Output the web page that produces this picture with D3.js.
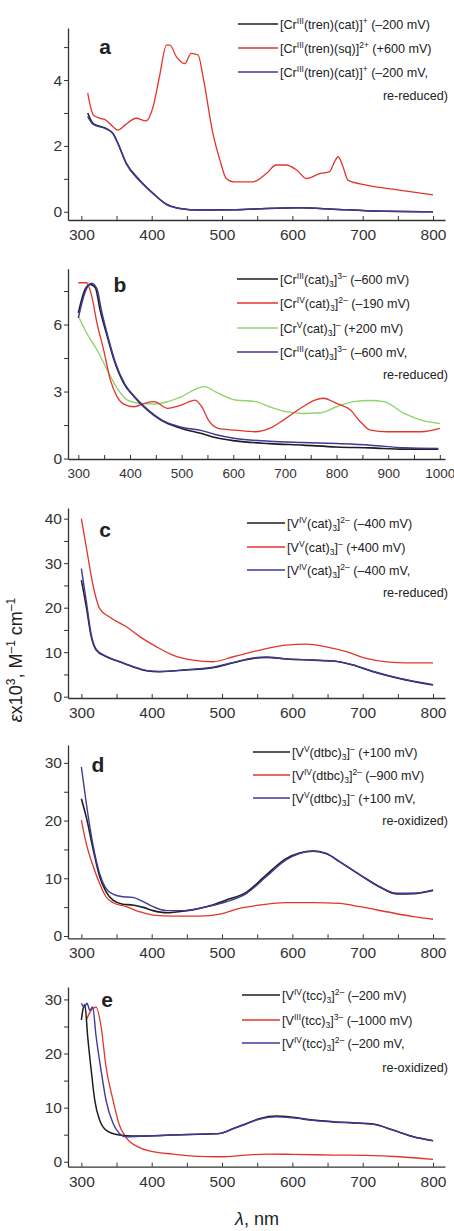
<!DOCTYPE html>
<html><head><meta charset="utf-8">
<script src="https://cdn.jsdelivr.net/npm/d3@7"></script>
<style>
body{margin:0;background:#fff;}
svg{display:block;font-family:"Liberation Sans",Arial,sans-serif;}
</style></head>
<body><svg id="c" width="454" height="1231"></svg>
<script>
// ---------- DATA ----------
// Panel a
const aBlack = [[309,3.0],[317,2.68],[335,2.53],[345,2.38],[352,2.08],[364,1.47],[383,0.96],[402,0.56],[421,0.23],[440,0.1],[468,0.05],[520,0.06],[563,0.1],[610,0.12],[658,0.08],[705,0.03],[800,0.0]];
const aRed = [[309,3.6],[317,2.94],[326,2.84],[335,2.78],[345,2.58],[352,2.48],[362,2.63],[378,2.84],[392,2.76],[402,3.19],[411,4.1],[421,5.06],[426,5.06],[435,4.71],[447,4.5],[456,4.81],[466,4.76],[473,4.1],[487,2.38],[497,1.57],[506,1.01],[516,0.91],[544,0.91],[563,1.16],[577,1.42],[591,1.42],[606,1.27],[620,1.01],[639,1.16],[653,1.22],[660,1.52],[665,1.67],[672,1.37],[679,0.96],[705,0.81],[752,0.66],[800,0.51]];
const aBlue = [[309,2.9],[317,2.65],[335,2.52],[345,2.37],[352,2.07],[364,1.45],[383,0.94],[402,0.55],[421,0.22],[440,0.1],[468,0.05],[520,0.06],[563,0.1],[610,0.12],[658,0.08],[705,0.03],[800,0.0]];
// Panel b
const bBlack = [[300,6.52],[313,7.57],[323,7.8],[333,7.65],[342,6.67],[356,5.47],[369,4.42],[388,3.37],[408,2.77],[434,2.17],[460,1.72],[500,1.35],[539,1.12],[565,0.94],[604,0.79],[670,0.67],[735,0.6],[800,0.52],[866,0.48],[931,0.42],[997,0.42]];
const bRed = [[300,7.87],[316,7.87],[326,7.27],[336,6.07],[349,4.87],[362,3.52],[375,2.77],[388,2.44],[408,2.32],[428,2.47],[447,2.55],[473,2.25],[500,2.4],[526,2.62],[539,2.32],[552,1.72],[571,1.35],[604,1.27],[643,1.2],[670,1.35],[702,1.8],[735,2.32],[758,2.62],[774,2.7],[800,2.47],[827,2.17],[846,1.65],[866,1.27],[898,1.2],[964,1.2],[1000,1.35]];
const bGreen = [[300,6.37],[316,5.62],[336,4.87],[356,3.97],[375,3.15],[395,2.62],[421,2.47],[447,2.44],[473,2.55],[500,2.77],[526,3.1],[545,3.22],[565,3.0],[604,2.62],[643,2.55],[670,2.32],[702,2.1],[735,2.02],[768,2.05],[800,2.32],[833,2.55],[866,2.6],[892,2.55],[931,2.02],[964,1.72],[1000,1.57]];
const bBlue = [[300,6.3],[313,7.45],[326,7.85],[336,7.6],[345,6.6],[358,5.4],[371,4.35],[390,3.33],[410,2.75],[436,2.16],[462,1.72],[500,1.4],[539,1.25],[565,1.08],[604,0.9],[670,0.78],[735,0.72],[800,0.67],[866,0.6],[931,0.48],[997,0.45]];
// Panel c
const cBlack = [[300,26.2],[307,20.2],[314,13.5],[321,10.5],[335,9.0],[354,7.85],[373,6.73],[392,5.83],[411,5.6],[449,6.0],[487,6.5],[516,7.6],[544,8.6],[563,8.8],[591,8.45],[629,8.2],[658,8.0],[686,7.1],[715,5.6],[752,4.1],[800,2.6]];
const cRed = [[300,40.0],[307,33.6],[317,24.7],[326,19.8],[340,17.9],[364,15.7],[383,13.5],[407,11.2],[430,9.35],[459,8.22],[487,7.85],[516,8.97],[544,10.1],[563,10.8],[591,11.6],[620,11.8],[648,11.2],[677,10.1],[705,8.6],[734,7.8],[762,7.6],[800,7.6]];
const cBlue = [[300,28.8],[307,21.5],[314,14.0],[321,10.7],[335,9.1],[354,7.9],[373,6.8],[392,5.9],[411,5.65],[449,6.05],[487,6.6],[516,7.7],[544,8.7],[563,8.9],[591,8.5],[629,8.25],[658,8.05],[686,7.15],[715,5.65],[752,4.15],[800,2.7]];
// Panel d
const dBlack = [[300,23.8],[307,20.6],[317,14.9],[326,10.3],[335,7.7],[345,6.2],[359,5.5],[373,5.37],[388,4.96],[402,4.4],[421,4.04],[449,4.4],[478,5.08],[506,6.23],[535,7.6],[563,10.6],[591,13.4],[610,14.4],[629,14.7],[648,14.3],[667,12.9],[696,10.6],[724,8.5],[748,7.3],[772,7.35],[800,7.9]];
const dRed = [[300,20.1],[307,16.0],[317,12.0],[326,9.1],[335,6.8],[345,5.77],[364,5.08],[383,4.2],[402,3.63],[430,3.46],[468,3.46],[497,3.8],[525,4.8],[554,5.37],[591,5.77],[629,5.77],[667,5.65],[696,5.08],[734,4.2],[772,3.35],[800,2.9]];
const dBlue = [[300,29.3],[307,23.0],[317,15.5],[326,10.8],[335,8.25],[345,7.27],[359,6.8],[373,6.7],[388,5.94],[402,5.08],[421,4.4],[449,4.4],[478,5.08],[506,5.94],[535,7.4],[563,10.3],[591,13.2],[610,14.3],[629,14.7],[648,14.3],[667,12.9],[696,10.6],[724,8.54],[748,7.4],[772,7.4],[800,8.0]];
// Panel e
const eBlack = [[300,26.2],[302,28.0],[305,29.0],[309,23.1],[314,16.9],[319,11.4],[326,7.7],[335,5.85],[354,4.93],[373,4.74],[402,4.8],[430,4.93],[468,5.1],[497,5.24],[516,6.16],[535,7.08],[554,8.0],[577,8.44],[601,8.2],[629,7.7],[658,7.4],[686,7.2],[715,6.96],[743,5.85],[772,4.62],[800,3.88]];
const eRed = [[307,26.2],[314,28.0],[321,28.6],[328,25.0],[335,17.6],[345,11.4],[354,6.8],[364,4.4],[383,2.6],[402,1.85],[430,1.42],[459,1.05],[497,0.92],[535,1.23],[563,1.42],[601,1.36],[658,1.23],[705,1.17],[752,0.92],[800,0.43]];
const eBlue = [[300,29.3],[304,28.6],[308,29.3],[312,28.0],[316,28.6],[321,23.1],[328,16.9],[335,11.4],[345,7.1],[354,5.24],[364,4.6],[383,4.7],[402,4.8],[430,4.93],[468,5.1],[497,5.24],[516,6.1],[535,7.0],[554,7.9],[577,8.3],[601,8.1],[629,7.65],[658,7.35],[686,7.15],[715,6.9],[743,5.85],[772,4.62],[800,3.9]];

// Tick labels
const xTicks800 = [300,400,500,600,700,800];
const xTicks1000 = [300,400,500,600,700,800,900,1000];
const yTicksA = [0,2,4];
const yTicksB = [0,3,6];
const yTicksC = [0,10,20,30,40];
const yTicksD = [0,10,20,30];
const yTicksE = [0,10,20,30];

// Legend labels: [text, style] segments ("", "sup", "sub")
const legA = [
  [["[Cr",""],["III","sup"],["(tren)(cat)]",""],["+","sup"],[" (–200 mV)",""]],
  [["[Cr",""],["III","sup"],["(tren)(sq)]",""],["2+","sup"],[" (+600 mV)",""]],
  [["[Cr",""],["III","sup"],["(tren)(cat)]",""],["+","sup"],[" (–200 mV,",""]]
];
const legB = [
  [["[Cr",""],["III","sup"],["(cat)",""],["3","sub"],["]",""],["3–","sup"],[" (–600 mV)",""]],
  [["[Cr",""],["IV","sup"],["(cat)",""],["3","sub"],["]",""],["2–","sup"],[" (–190 mV)",""]],
  [["[Cr",""],["V","sup"],["(cat)",""],["3","sub"],["]",""],["–","sup"],[" (+200 mV)",""]],
  [["[Cr",""],["III","sup"],["(cat)",""],["3","sub"],["]",""],["3–","sup"],[" (–600 mV,",""]]
];
const legC = [
  [["[V",""],["IV","sup"],["(cat)",""],["3","sub"],["]",""],["2–","sup"],[" (–400 mV)",""]],
  [["[V",""],["V","sup"],["(cat)",""],["3","sub"],["]",""],["–","sup"],[" (+400 mV)",""]],
  [["[V",""],["IV","sup"],["(cat)",""],["3","sub"],["]",""],["2–","sup"],[" (–400 mV,",""]]
];
const legD = [
  [["[V",""],["V","sup"],["(dtbc)",""],["3","sub"],["]",""],["–","sup"],[" (+100 mV)",""]],
  [["[V",""],["IV","sup"],["(dtbc)",""],["3","sub"],["]",""],["2–","sup"],[" (–900 mV)",""]],
  [["[V",""],["V","sup"],["(dtbc)",""],["3","sub"],["]",""],["–","sup"],[" (+100 mV,",""]]
];
const legE = [
  [["[V",""],["IV","sup"],["(tcc)",""],["3","sub"],["]",""],["2–","sup"],[" (–200 mV)",""]],
  [["[V",""],["III","sup"],["(tcc)",""],["3","sub"],["]",""],["3–","sup"],[" (–1000 mV)",""]],
  [["[V",""],["IV","sup"],["(tcc)",""],["3","sub"],["]",""],["2–","sup"],[" (–200 mV,",""]]
];
const contA = "re-reduced)", contB = "re-reduced)", contC = "re-reduced)", contD = "re-oxidized)", contE = "re-oxidized)";

// ---------- DRAW ----------
const COL = {k:"#1e1e1e", r:"#e3342c", b:"#3d3a98", g:"#8fd46e"};
const svg = d3.select("#c");

const panels = [
  {lab:"a", labX:105, labY:54, xd:[281,817], yd:[-0.25,5.58], top:28, bot:220, xt:xTicks800, xfs:15.5, xminor:50, yt:yTicksA, yminor:1,
   series:[[aRed,COL.r,1.3],[aBlack,COL.k,1.5],[aBlue,COL.b,1.5]],
   leg:legA, legCols:[COL.k,COL.r,COL.b], legY:[24,48,72], cont:contA, contY:95, lx0:238, lx1:278},
  {lab:"b", labX:120, labY:292, xd:[280,1010], yd:[-0.02,8.5], top:268.7, bot:459, xt:xTicks1000, xfs:13.5, xminor:50, yt:yTicksB, yminor:1.5,
   series:[[bGreen,COL.g,1.4],[bRed,COL.r,1.3],[bBlack,COL.k,1.6],[bBlue,COL.b,1.5]],
   leg:legB, legCols:[COL.k,COL.r,COL.g,COL.b], legY:[279,303,328,352], cont:contB, contY:374, lx0:237, lx1:278},
  {lab:"c", labX:105, labY:537, xd:[281,817], yd:[-0.3,42.4], top:508, bot:698, xt:xTicks800, xfs:15.5, xminor:50, yt:yTicksC, yminor:5,
   series:[[cRed,COL.r,1.3],[cBlack,COL.k,1.5],[cBlue,COL.b,1.4]],
   leg:legC, legCols:[COL.k,COL.r,COL.b], legY:[523,547,570], cont:contC, contY:592, lx0:247, lx1:285},
  {lab:"d", labX:98, labY:772, xd:[281,817], yd:[-0.4,33.1], top:745, bot:938.3, xt:xTicks800, xfs:15.5, xminor:50, yt:yTicksD, yminor:5,
   series:[[dRed,COL.r,1.3],[dBlack,COL.k,1.6],[dBlue,COL.b,1.4]],
   leg:legD, legCols:[COL.k,COL.r,COL.b], legY:[752,775,798], cont:contD, contY:820, lx0:253, lx1:290},
  {lab:"e", labX:107, labY:1007, xd:[281,817], yd:[-0.92,32.3], top:987, bot:1166.7, xt:xTicks800, xfs:15.5, xminor:50, yt:yTicksE, yminor:5,
   series:[[eRed,COL.r,1.3],[eBlack,COL.k,1.5],[eBlue,COL.b,1.4]],
   leg:legE, legCols:[COL.k,COL.r,COL.b], legY:[995,1020,1043], cont:contE, contY:1067, lx0:242, lx1:280}
];

function richText(sel, segs){
  let shift = 0;
  segs.forEach(([t,s])=>{
    let target = s==="sup" ? -4.8 : s==="sub" ? 3 : 0;
    sel.append("tspan")
      .attr("dy", target - shift)
      .attr("font-size", s ? 8.5 : 12.6)
      .text(t);
    shift = target;
  });
}

panels.forEach(p=>{
  const x = d3.scaleLinear().domain(p.xd).range([68,445]);
  const y = d3.scaleLinear().domain(p.yd).range([p.bot,p.top]);
  const g = svg.append("g");

  // x axis (ticks inward)
  const xAll = d3.range(p.xt[0], p.xt[p.xt.length-1]+1, p.xminor);
  const xa = d3.axisBottom(x).tickValues(xAll).tickSizeInner(-4).tickSizeOuter(0)
    .tickFormat(d => p.xt.includes(d) ? d : "");
  const gx = g.append("g").attr("transform",`translate(0,${p.bot})`).call(xa);
  gx.selectAll("text").attr("font-size",p.xfs).attr("fill","#333").attr("y",9).attr("dy","0.71em");

  // y axis (ticks outward)
  const yMax = p.yd[1];
  const yAll = d3.range(0, yMax, p.yminor);
  const ya = d3.axisLeft(y).tickValues(yAll).tickSizeInner(4).tickSizeOuter(0)
    .tickFormat(d => p.yt.includes(d) ? d : "");
  const gy = g.append("g").attr("transform","translate(68,0)").call(ya);
  gy.selectAll("text").attr("font-size",15.5).attr("fill","#333").attr("x",-6);
  g.selectAll(".domain").attr("stroke","#333").attr("stroke-width",1.3);
  g.selectAll(".tick line").attr("stroke","#333");

  // series
  const line = d3.line().x(d=>x(d[0])).y(d=>y(d[1])).curve(d3.curveMonotoneX);
  p.series.forEach(([data,col,w])=>{
    g.append("path").datum(data).attr("d",line).attr("fill","none")
      .attr("stroke",col).attr("stroke-width",w).attr("stroke-linejoin","round");
  });

  // panel label
  g.append("text").attr("x",p.labX).attr("y",p.labY).attr("text-anchor","middle")
    .attr("font-size",21).attr("font-weight","bold").attr("fill","#222").text(p.lab);

  // legend
  p.leg.forEach((segs,i)=>{
    const yy = p.legY[i];
    g.append("line").attr("x1",p.lx0).attr("x2",p.lx1).attr("y1",yy).attr("y2",yy)
      .attr("stroke",p.legCols[i]).attr("stroke-width",1.6);
    const t = g.append("text").attr("x",p.lx1+2).attr("y",yy+4.5).attr("fill","#222");
    richText(t, segs);
  });
  g.append("text").attr("x",448).attr("y",p.contY+4.5).attr("text-anchor","end")
    .attr("font-size",12.6).attr("fill","#222").text(p.cont);
});

// axis titles
const yTitle = svg.append("text").attr("transform","translate(22,660) rotate(-90)")
  .attr("text-anchor","middle").attr("font-size",18).attr("fill","#222");
yTitle.append("tspan").attr("font-style","italic").text("ε");
yTitle.append("tspan").text("x10");
yTitle.append("tspan").attr("font-size",12).attr("dy",-7).text("3");
yTitle.append("tspan").attr("dy",7).text(", M");
yTitle.append("tspan").attr("font-size",12).attr("dy",-7).text("–1");
yTitle.append("tspan").attr("dy",7).text(" cm");
yTitle.append("tspan").attr("font-size",12).attr("dy",-7).text("–1");

const xTitle = svg.append("text").attr("x",257).attr("y",1225).attr("text-anchor","middle")
  .attr("font-size",18).attr("fill","#222");
xTitle.append("tspan").attr("font-style","italic").text("λ");
xTitle.append("tspan").text(", nm");
</script></body></html>
